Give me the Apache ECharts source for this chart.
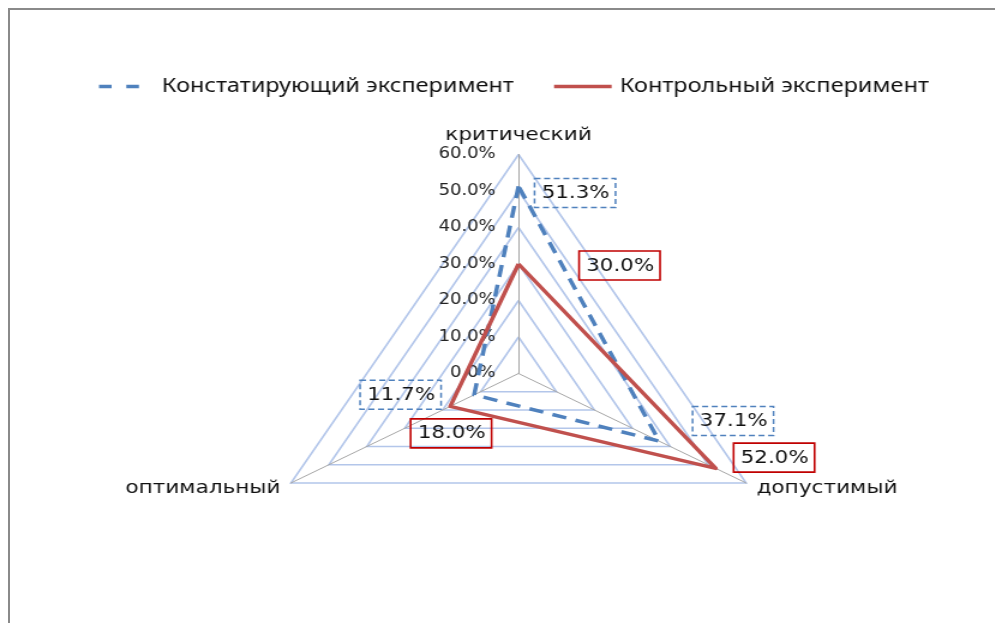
<!DOCTYPE html>
<html><head><meta charset="utf-8">
<script src="https://cdn.jsdelivr.net/npm/echarts@6/dist/echarts.min.js"></script>
<style>
html,body{margin:0;padding:0;background:#fff;overflow:hidden;width:995px;height:623px;}
#frame{position:absolute;left:8px;top:8px;width:1100px;height:700px;border-left:2px solid #8a8a8a;border-top:2px solid #8a8a8a;}
#chart{position:absolute;left:0;top:0;width:829.17px;height:623px;transform:scaleX(1.2);transform-origin:0 0;}
</style></head><body>
<div id="frame"></div>
<div id="chart"></div>
<script>
// ---- data ----
const categories = ['критический', 'оптимальный', 'допустимый'];
const seriesNames = ['Констатирующий эксперимент', 'Контрольный эксперимент'];
const stating = [51.3, 11.7, 37.1];
const control = [30.0, 18.0, 52.0];
const axisMin = 0;
const axisMax = 60;
const axisSplit = 6;

// ---- style / layout (unscaled px, chart is stretched 1.2x horizontally) ----
const SX = 1.2;
const statingOffsets = [[47.1, 6.7], [-61.3, 0], [61.5, -20.2]];
const controlOffsets = [[84.2, 1.5], [0.7, 27], [48.6, -10.8]];
const FONT = 'DejaVu Sans';
const pct = v => v.toFixed(1) + '%';

const richBlue = {fontFamily: FONT, fontSize: 17.8, color: '#111', lineHeight: 21, padding: [6, 5, 5, 6],
  borderColor: '#4f81bd', borderWidth: 1.5, borderType: [5, 3]};
const richRed = {fontFamily: FONT, fontSize: 17.8, color: '#111', lineHeight: 21, padding: [6, 5, 5, 6],
  borderColor: '#c00000', borderWidth: 1.6};

function labelItems(vals, offsets, rich, tag) {
  return vals.map((v, k) => ({
    name: tag + k,
    value: vals,
    symbol: 'circle',
    symbolSize: 1,
    itemStyle: {color: 'rgba(0,0,0,0)'},
    lineStyle: {width: 0, opacity: 0},
    label: {
      show: true, position: 'inside', offset: offsets[k],
      formatter: p => (p.value === v ? '{b|' + pct(v) + '}' : ''),
      rich: {b: rich}
    }
  }));
}

const indicators = categories.map((c, i) => {
  const o = {name: c, min: axisMin, max: axisMax};
  if (i !== 0) o.axisLabel = {show: false};
  return o;
});

const chart = echarts.init(document.getElementById('chart'));
chart.setOption({
  animation: false,
  backgroundColor: 'transparent',
  legend: [
    {
      data: [{name: seriesNames[0], icon: 'path://M0,0H12V4H0Z M26,0H38V4H26Z'}],
      left: 82.5, top: 76.5, padding: 0, itemWidth: 38, itemHeight: 3.5,
      itemStyle: {color: '#4f81bd', borderWidth: 0},
      textStyle: {fontFamily: 'Noto Sans', fontSize: 19.6, color: '#111', padding: [0, 0, 0, 11.7]}
    },
    {
      data: [{name: seriesNames[1], icon: 'rect'}],
      left: 461.7, top: 76.5, padding: 0, itemWidth: 48, itemHeight: 3.5,
      itemStyle: {color: '#c0504d', borderWidth: 0},
      textStyle: {fontFamily: 'Noto Sans', fontSize: 19.6, color: '#111', padding: [0, 0, 0, 1.7]}
    }
  ],
  radar: {
    center: [518.5 / SX, 373.5],
    radius: 219,
    startAngle: 90,
    shape: 'polygon',
    splitNumber: axisSplit,
    indicator: indicators,
    axisName: {color: '#111', fontSize: 18, fontFamily: FONT},
    nameGap: 10,
    axisLine: {lineStyle: {color: '#a6a6a6', width: 1}},
    splitLine: {lineStyle: {color: '#b3c6ea', width: 1.6}},
    splitArea: {show: false},
    axisTick: {show: false},
    axisLabel: {show: true, formatter: v => pct(v), color: '#222', fontSize: 15, fontFamily: FONT, margin: 19}
  },
  series: [{
    type: 'radar',
    emphasis: {disabled: true},
    data: [
      {name: seriesNames[0], value: stating, symbol: 'none',
        itemStyle: {color: '#4f81bd'}, lineStyle: {color: '#4f81bd', width: 3.5, type: [12, 8]}},
      {name: seriesNames[1], value: control, symbol: 'none',
        itemStyle: {color: '#c0504d'}, lineStyle: {color: '#c0504d', width: 3.5}}
    ].concat(labelItems(stating, statingOffsets, richBlue, 'lblA'))
     .concat(labelItems(control, controlOffsets, richRed, 'lblB'))
  }]
});
</script>
</body></html>
